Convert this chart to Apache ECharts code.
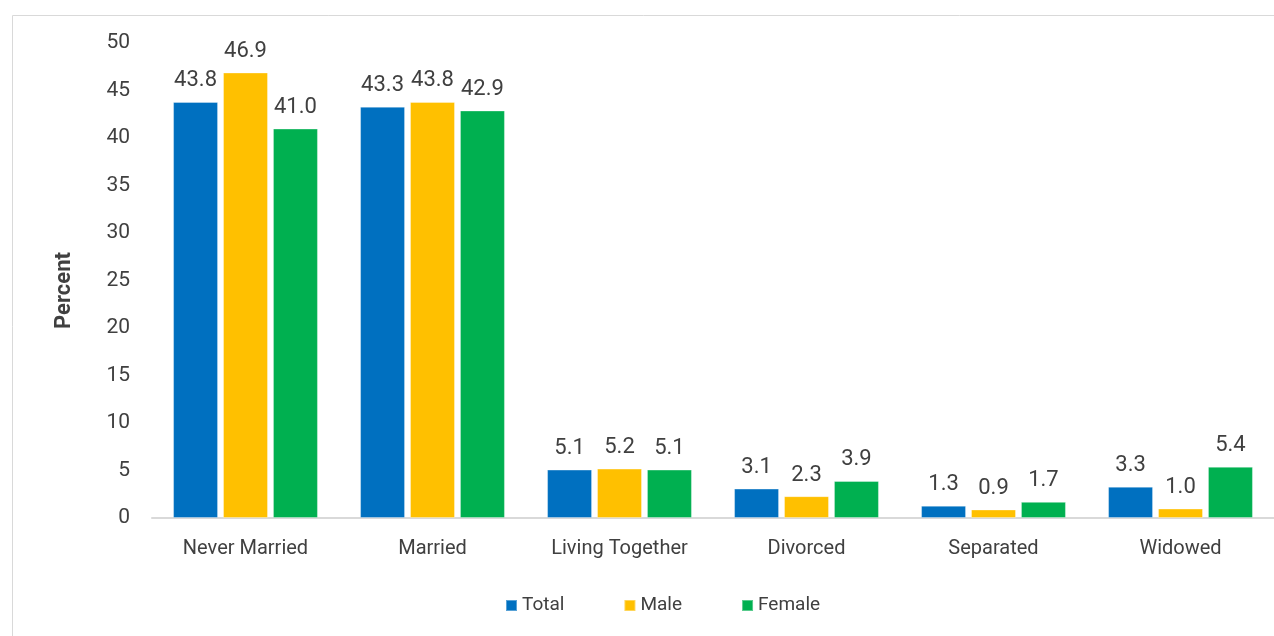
<!DOCTYPE html>
<html><head><meta charset="utf-8">
<script src="https://cdn.jsdelivr.net/npm/echarts@6/dist/echarts.min.js"></script>
<style>html,body{margin:0;padding:0;background:#fff}#c{width:1274px;height:636px}</style>
</head><body><div id="c"></div>
<script>
const categories = ["Never Married", "Married", "Living Together", "Divorced", "Separated", "Widowed"];
const totalValues = [43.8, 43.3, 5.1, 3.1, 1.3, 3.3];
const maleValues = [46.9, 43.8, 5.2, 2.3, 0.9, 1.0];
const femaleValues = [41.0, 42.9, 5.1, 3.9, 1.7, 5.4];
const seriesNames = ["Total", "Male", "Female"];
const colors = ["#0070C0", "#FFC000", "#00B050"];
const font = "Roboto, sans-serif";
const txt = "#404040";
const chart = echarts.init(document.getElementById('c'), null, {renderer: 'canvas'});
const mk = (name, data, color) => ({
  name, type: 'bar', data, barWidth: 45, barGap: '11%',
  itemStyle: {color, borderColor: 'rgba(255,255,255,0.35)', borderWidth: 1},
  label: {show: true, position: 'top', distance: 10, formatter: p => p.value.toFixed(1),
    fontFamily: font, fontSize: 22, color: txt},
  emphasis: {disabled: true}
});
chart.setOption({
  animation: false,
  graphic: [{type: 'rect', shape: {x: 12.5, y: 15.5, width: 1270, height: 640},
    style: {fill: 'none', stroke: '#d9d9d9', lineWidth: 1}, z: -1}],
  grid: {left: 152, top: 43, width: 1128, bottom: 118},
  legend: {data: seriesNames, bottom: 21, left: 505, padding: 0, itemWidth: 11, itemHeight: 11, itemGap: 59,
    icon: 'rect', textStyle: {fontFamily: font, fontSize: 19, color: txt}},
  xAxis: {type: 'category', data: categories,
    axisLine: {lineStyle: {color: '#d9d9d9', width: 2}}, axisTick: {show: false},
    axisLabel: {fontFamily: font, fontSize: 20, color: txt, margin: 21}},
  yAxis: {type: 'value', min: 0, max: 50, interval: 5,
    name: 'Percent', nameLocation: 'middle', nameGap: 77, nameRotate: 90,
    nameTextStyle: {fontFamily: font, fontSize: 22, fontWeight: 'bold', color: txt, padding: [0,0,0,-20]},
    axisLine: {show: false}, axisTick: {show: false}, splitLine: {show: false},
    axisLabel: {fontFamily: font, fontSize: 21, color: txt, margin: 22}},
  series: [mk(seriesNames[0], totalValues, colors[0]), mk(seriesNames[1], maleValues, colors[1]), mk(seriesNames[2], femaleValues, colors[2])]
});
</script></body></html>
